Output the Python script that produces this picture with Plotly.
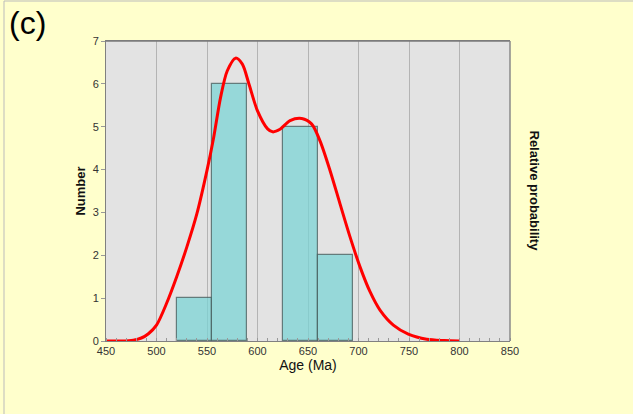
import plotly.graph_objects as go

# Histogram of ages (bin edges in Ma, count per bin)
bin_left = [520, 555, 625, 660]
bin_width = 35
counts = [1, 6, 5, 2]

# Relative probability curve (age in Ma, value in count units)
curve_age = [450, 465, 477, 485, 492, 500, 510, 520, 530, 540, 550, 556.6, 563.4, 570, 578.3,
             585, 591.6, 600, 610, 615, 622.3, 632.2, 643.8, 653.7, 661.9, 671.8,
             681.7, 691.6, 701.5, 711.4, 721.3, 734.5, 749.3, 767.5, 785, 800]
curve_val = [0.0, 0.0, 0.02, 0.07, 0.17, 0.37, 0.88, 1.5, 2.19, 2.97, 3.98, 4.75, 5.68, 6.3, 6.6,
             6.46, 5.99, 5.37, 4.95, 4.88, 4.94, 5.14, 5.19, 5.06, 4.67, 3.98,
             3.2, 2.43, 1.73, 1.15, 0.72, 0.37, 0.16, 0.04, 0.01, 0.0]

x_ticks = [450, 500, 550, 600, 650, 700, 750, 800, 850]
y_ticks = [0, 1, 2, 3, 4, 5, 6, 7]

FONT = "Liberation Sans, Arial, sans-serif"

fig = go.Figure()

fig.add_trace(go.Scatter(
    x=curve_age, y=curve_val, mode="lines",
    line=dict(color="#FF0000", width=3, shape="spline", smoothing=0.8),
    yaxis="y2", hoverinfo="skip", showlegend=False,
))

fig.add_trace(go.Bar(
    x=[b + bin_width / 2 for b in bin_left], y=counts, width=bin_width,
    marker=dict(color="rgba(120,212,214,0.72)",
                line=dict(color="rgba(70,90,90,0.75)", width=1.2)),
    showlegend=False,
))

axis_font = dict(family=FONT, size=11, color="#333333")

fig.update_layout(
    width=633, height=414,
    margin=dict(l=106, r=123, t=41, b=73),
    paper_bgcolor="#FFFFCC",
    plot_bgcolor="#E3E3E3",
    bargap=0,
    xaxis=dict(
        range=[450, 850], tickvals=x_ticks, ticktext=[str(v) for v in x_ticks],
        tickfont=axis_font, showgrid=True, gridcolor="#B4B4B4", gridwidth=1,
        showline=True, linecolor="#808080", linewidth=1, mirror=True,
        ticks="", zeroline=False,
        minor=dict(dtick=10, ticks="inside", ticklen=3, tickcolor="#999999", showgrid=False),
        title=dict(text="Age (Ma)", font=dict(family=FONT, size=14, color="#111111"), standoff=2),
    ),
    yaxis=dict(
        range=[0, 7], tickvals=y_ticks, tickfont=axis_font,
        showgrid=False, showline=True, linecolor="#808080", linewidth=1,
        ticks="outside", ticklen=4, tickcolor="#999999", zeroline=False,
        title=dict(text="<b>Number</b>", font=dict(family=FONT, size=13, color="#111111"),
                   standoff=4),
    ),
    yaxis2=dict(
        range=[0, 7], overlaying="y", side="right", showticklabels=False,
        showgrid=False, ticks="", zeroline=False, showline=False,
    ),
)

# Right-hand axis title
fig.add_annotation(
    x=1, xref="paper", xshift=34, y=0.5, yref="paper",
    text="<b>Relative probability</b>", textangle=90, showarrow=False,
    font=dict(family=FONT, size=13, color="#111111"),
)

# Panel label
fig.add_annotation(
    x=0, xref="paper", xshift=-99, xanchor="left",
    y=1, yref="paper", yshift=38, yanchor="top",
    text="(c)", showarrow=False,
    font=dict(family=FONT, size=32, color="#000000"),
)

# Darker frame on the top and right edges of the plotting area
fig.add_shape(type="line", xref="paper", yref="paper", x0=0, x1=1, y0=1, y1=1,
              line=dict(color="#7A7A7A", width=1.5))
fig.add_shape(type="line", xref="paper", yref="paper", x0=1, x1=1, y0=0, y1=1,
              line=dict(color="#8A8A8A", width=1.5))

# Thin outer border of the chart area
fig.add_shape(type="line", xref="paper", yref="paper",
              x0=(4 - 106) / 404, x1=(4 - 106) / 404, y0=-73 / 300, y1=(41 - 1) / 300 + 1,
              line=dict(color="#BBBBBB", width=1))
fig.add_shape(type="line", xref="paper", yref="paper",
              x0=(4 - 106) / 404, x1=(633 - 106) / 404, y0=(41 - 1) / 300 + 1, y1=(41 - 1) / 300 + 1,
              line=dict(color="#BBBBBB", width=1))

fig.write_html("out.html")
